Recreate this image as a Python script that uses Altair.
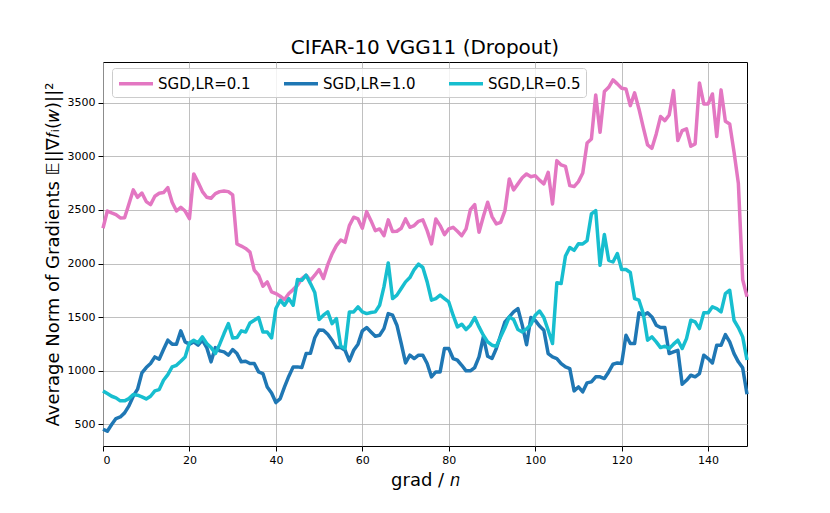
import altair as alt
import pandas as pd

steps = list(range(150))

lr_01 = [2329, 2490, 2472, 2456, 2425, 2428, 2556, 2687, 2618, 2658,
         2578, 2550, 2628, 2655, 2662, 2708, 2572, 2490, 2525, 2490,
         2419, 2836, 2758, 2671, 2618, 2609, 2652, 2671, 2677, 2671,
         2640, 2182, 2163, 2141, 2107, 1938, 1891, 1789, 1829, 1736,
         1720, 1695, 1664, 1720, 1757, 1798, 1860, 1891, 1844, 1891,
         1944, 1860, 1990, 2090, 2167, 2220, 2198, 2354, 2432, 2416,
         2329, 2484, 2400, 2307, 2323, 2260, 2407, 2298, 2301, 2329,
         2416, 2338, 2354, 2394, 2407, 2307, 2183, 2416, 2354, 2270,
         2323, 2338, 2301, 2260, 2323, 2503, 2550, 2292, 2438, 2572,
         2438, 2369, 2385, 2494, 2789, 2687, 2743, 2800, 2836, 2810,
         2820, 2778, 2743, 2851, 2556, 2960, 2920, 2907, 2727, 2718,
         2764, 2845, 3125, 3162, 3573, 3225, 3604, 3644, 3713, 3676,
         3635, 3629, 3473, 3592, 3442, 3271, 3106, 3075, 3209, 3371,
         3333, 3386, 3613, 3147, 3240, 3256, 3094, 3116, 3685, 3489,
         3489, 3582, 3184, 3620, 3327, 3302, 3040, 2750, 1850, 1690]

lr_10 = [454, 436, 498, 554, 569, 607, 672, 762, 828, 980,
         1030, 1067, 1129, 1107, 1198, 1285, 1248, 1248, 1372, 1269,
         1248, 1269, 1238, 1285, 1216, 1083, 1216, 1185, 1176, 1145,
         1198, 1160, 1083, 1089, 1067, 1067, 989, 974, 849, 793,
         703, 740, 849, 949, 1036, 1036, 1030, 1160, 1163, 1308,
         1381, 1378, 1341, 1285, 1216, 1216, 1191, 1092, 1191, 1248,
         1372, 1403, 1362, 1322, 1331, 1393, 1533, 1518, 1425, 1254,
         1073, 1145, 1114, 1145, 1145, 1067, 943, 989, 989, 1207,
         1207, 1114, 1098, 1051, 999, 999, 1030, 1129, 1316, 1135,
         1114, 1207, 1331, 1456, 1502, 1549, 1580, 1425, 1243, 1496,
         1470, 1417, 1378, 1160, 1129, 1114, 1067, 1036, 1020, 812,
         849, 803, 887, 896, 943, 943, 927, 989, 1061, 1073,
         1067, 1331, 1254, 1254, 1540, 1518, 1540, 1502, 1425, 1403,
         1403, 1160, 1176, 1191, 874, 911, 958, 943, 974, 1145,
         1114, 1073, 1238, 1238, 1337, 1269, 1160, 1083, 1027, 781]

lr_05 = [812, 787, 762, 747, 719, 719, 740, 778, 772, 756,
         737, 762, 812, 824, 911, 964, 1036, 1051, 1089, 1129,
         1260, 1285, 1260, 1316, 1254, 1216, 1160, 1248, 1347, 1440,
         1306, 1309, 1372, 1362, 1446, 1471, 1496, 1362, 1362, 1306,
         1580, 1658, 1611, 1673, 1611, 1851, 1844, 1891, 1813, 1730,
         1478, 1518, 1549, 1440, 1487, 1229, 1207, 1549, 1549, 1596,
         1549, 1533, 1543, 1549, 1611, 1782, 2006, 1673, 1705, 1767,
         1829, 1869, 1944, 1994, 1963, 1829, 1658, 1673, 1705, 1673,
         1642, 1518, 1409, 1434, 1384, 1425, 1496, 1409, 1331, 1269,
         1238, 1229, 1316, 1403, 1502, 1478, 1384, 1362, 1390, 1432,
         1518, 1557, 1496, 1378, 1254, 1820, 1813, 2070, 2150, 2123,
         2185, 2183, 2214, 2463, 2494, 1984, 2270, 2030, 2015, 2093,
         1944, 1944, 1916, 1673, 1658, 1533, 1285, 1316, 1269, 1216,
         1229, 1207, 1248, 1285, 1207, 1300, 1471, 1456, 1393, 1540,
         1540, 1596, 1580, 1549, 1720, 1751, 1471, 1403, 1316, 1100]

series_names = ["SGD,LR=0.1", "SGD,LR=1.0", "SGD,LR=0.5"]
series_colors = ["#e377c2", "#1f77b4", "#17becf"]
x_ticks = [0, 20, 40, 60, 80, 100, 120, 140]
y_ticks = [500, 1000, 1500, 2000, 2500, 3000, 3500]

rows = []
for name, vals in zip(series_names, [lr_01, lr_10, lr_05]):
    for s, v in zip(steps, vals):
        rows.append({"step": s, "value": v, "series": name})
df = pd.DataFrame(rows)

FONT = "DejaVu Sans"

x_enc = alt.X("step:Q",
              scale=alt.Scale(domain=[0, 149], nice=False, zero=False),
              axis=alt.Axis(values=x_ticks, title="grad / 𝑛", format="d",
                            titlePadding=6))
y_enc = alt.Y("value:Q",
              scale=alt.Scale(domain=[298, 3880], nice=False, zero=False),
              axis=alt.Axis(values=y_ticks, format="d",
                            title="Average Norm of Gradients 𝔼||∇𝑓ᵢ(𝑤)||²",
                            titlePadding=5))
color_enc = alt.Color("series:N",
                      scale=alt.Scale(domain=series_names, range=series_colors),
                      legend=alt.Legend(title=None, orient="none", legendX=9, legendY=6,
                                        direction="horizontal", columns=3,
                                        symbolType="M-1,0H3", symbolSize=289,
                                        symbolStrokeWidth=3.5, labelFontSize=15,
                                        labelFont=FONT, labelOffset=20,
                                        columnPadding=26, padding=5,
                                        fillColor="rgba(255,255,255,0.8)",
                                        strokeColor="#cccccc", cornerRadius=3,
                                        labelColor="black"))

layers = []
for name in series_names:
    layers.append(
        alt.Chart(df).transform_filter(alt.datum.series == name)
        .mark_line(strokeWidth=3.5, strokeJoin="round")
        .encode(x=x_enc, y=y_enc, color=color_enc)
    )

chart = alt.layer(*layers).properties(
    width=644, height=384,
    autosize="none",
    padding={"left": 95, "top": 54, "right": 75, "bottom": 59},
    title=alt.TitleParams("CIFAR-10 VGG11 (Dropout)", fontSize=20, font=FONT,
                          fontWeight="normal", anchor="middle", frame="group",
                          baseline="alphabetic", offset=7, dy=19, color="black"),
).configure_axis(
    grid=True, gridColor="#b0b0b0", gridWidth=0.8,
    domain=False, tickColor="black", tickSize=5, tickWidth=1,
    labelFont=FONT, labelFontSize=11, labelColor="black", labelPadding=3,
    titleFont=FONT, titleFontSize=18, titleFontWeight="normal", titleColor="black",
).configure_view(stroke="black", strokeWidth=1)

chart.save("out.html", embed_options={"renderer": "svg", "actions": False})
